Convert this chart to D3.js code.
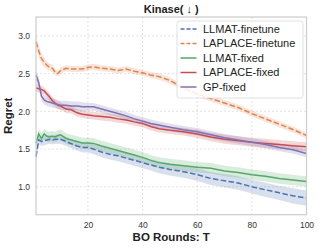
<!DOCTYPE html>
<html><head><meta charset="utf-8">
<script src="https://cdn.jsdelivr.net/npm/d3@7"></script>
<style>body{margin:0;background:#fff}svg{display:block}</style>
</head><body>
<script>
const rounds = [1,2,3,4,5,6,7,8,9,10,12,14,16,18,20,22,25,28,31,34,37,40,43,46,50,55,60,65,70,75,80,85,90,95,100];
const llmatFinetune = [1.40,1.62,1.60,1.61,1.62,1.63,1.62,1.63,1.63,1.63,1.60,1.57,1.54,1.52,1.52,1.50,1.46,1.43,1.41,1.38,1.35,1.32,1.29,1.26,1.23,1.20,1.16,1.11,1.08,1.05,1.00,0.96,0.92,0.88,0.85];
const llmatFinetuneErr = [0.06,0.06,0.06,0.06,0.06,0.06,0.06,0.06,0.06,0.06,0.06,0.06,0.06,0.065,0.065,0.065,0.07,0.07,0.07,0.07,0.075,0.075,0.075,0.08,0.08,0.08,0.085,0.085,0.09,0.09,0.09,0.095,0.095,0.1,0.1];
const laplaceFinetune = [2.92,2.80,2.70,2.65,2.61,2.58,2.57,2.52,2.50,2.54,2.57,2.56,2.56,2.56,2.58,2.59,2.57,2.56,2.54,2.56,2.53,2.51,2.48,2.46,2.41,2.31,2.23,2.17,2.11,2.05,1.97,1.90,1.83,1.76,1.68];
const laplaceFinetuneErr = [0.08,0.08,0.07,0.06,0.05,0.05,0.05,0.04,0.04,0.04,0.04,0.04,0.04,0.04,0.04,0.04,0.04,0.04,0.04,0.04,0.04,0.04,0.04,0.04,0.04,0.04,0.04,0.04,0.04,0.04,0.04,0.04,0.04,0.04,0.04];
const llmatFixed = [1.58,1.70,1.64,1.70,1.67,1.66,1.67,1.66,1.68,1.69,1.64,1.62,1.60,1.58,1.58,1.575,1.54,1.51,1.48,1.45,1.42,1.39,1.35,1.32,1.30,1.28,1.26,1.245,1.21,1.19,1.16,1.14,1.11,1.09,1.07];
const llmatFixedErr = [0.07,0.07,0.07,0.07,0.07,0.07,0.07,0.07,0.07,0.07,0.07,0.07,0.07,0.07,0.07,0.07,0.07,0.07,0.07,0.07,0.07,0.07,0.07,0.07,0.07,0.07,0.07,0.07,0.07,0.07,0.07,0.07,0.07,0.07,0.07];
const laplaceFixed = [2.31,2.30,2.29,2.27,2.23,2.19,2.14,2.11,2.08,2.07,2.03,2.02,1.98,1.96,1.95,1.94,1.93,1.92,1.90,1.885,1.86,1.84,1.80,1.77,1.75,1.73,1.70,1.66,1.63,1.61,1.59,1.575,1.56,1.545,1.53];
const laplaceFixedErr = [0.05,0.05,0.05,0.05,0.05,0.05,0.05,0.05,0.05,0.05,0.05,0.05,0.05,0.05,0.05,0.05,0.05,0.05,0.05,0.05,0.05,0.05,0.05,0.05,0.05,0.05,0.055,0.055,0.06,0.06,0.06,0.06,0.06,0.06,0.06];
const gpFixed = [2.48,2.38,2.20,2.15,2.13,2.12,2.11,2.10,2.09,2.08,2.08,2.07,2.07,2.06,2.06,2.06,2.03,2.00,1.97,1.94,1.90,1.87,1.84,1.82,1.79,1.755,1.73,1.69,1.65,1.62,1.59,1.56,1.52,1.49,1.44];
const gpFixedErr = [0.07,0.07,0.06,0.06,0.06,0.06,0.06,0.06,0.06,0.06,0.06,0.06,0.06,0.06,0.05,0.05,0.05,0.05,0.05,0.05,0.05,0.05,0.05,0.05,0.05,0.05,0.05,0.05,0.05,0.05,0.05,0.05,0.05,0.05,0.05];
const seriesNames = ["LLMAT-finetune","LAPLACE-finetune","LLMAT-fixed","LAPLACE-fixed","GP-fixed"];
const seriesColors = ["#4c72b0","#dd8452","#55a868","#c44e52","#8172b3"];
const seriesDashed = [true,true,false,false,false];
const seriesValues = [llmatFinetune,laplaceFinetune,llmatFixed,laplaceFixed,gpFixed];
const seriesErrors = [llmatFinetuneErr,laplaceFinetuneErr,llmatFixedErr,laplaceFixedErr,gpFixedErr];
const xTicks = [20,40,60,80,100];
const yTicks = [1.0,1.5,2.0,2.5,3.0];

const W=319,H=248;
const m={l:36,r:12.5,t:17,b:33.3};
const svg=d3.select("body").append("svg").attr("width",W).attr("height",H);
const x=d3.scaleLinear().domain([1,100]).range([m.l,W-m.r]);
const y=d3.scaleLinear().domain([0.63,3.25]).range([H-m.b,m.t]);
const font="Liberation Sans, Arial, sans-serif";

// grid
const g=svg.append("g");
g.selectAll(".gx").data(xTicks).join("line").attr("x1",d=>x(d)).attr("x2",d=>x(d)).attr("y1",m.t).attr("y2",H-m.b)
 .attr("stroke","#dcdcdc").attr("stroke-width",0.8).attr("stroke-dasharray","2,2");
g.selectAll(".gy").data(yTicks).join("line").attr("x1",m.l).attr("x2",W-m.r).attr("y1",d=>y(d)).attr("y2",d=>y(d))
 .attr("stroke","#dcdcdc").attr("stroke-width",0.8).attr("stroke-dasharray","2,2");

// bands & lines
const area=d3.area().x((d,i)=>x(rounds[i])).y0(d=>y(d[0]-d[1])).y1(d=>y(d[0]+d[1]));
const line=d3.line().x((d,i)=>x(rounds[i])).y(d=>y(d));
seriesValues.forEach((vals,k)=>{
  const pairs=vals.map((v,i)=>[v,seriesErrors[k][i]]);
  svg.append("path").datum(pairs).attr("d",area).attr("fill",seriesColors[k]).attr("fill-opacity",0.22);
});
seriesValues.forEach((vals,k)=>{
  svg.append("path").datum(vals).attr("d",line).attr("fill","none").attr("stroke",seriesColors[k])
   .attr("stroke-width",1.5).attr("stroke-dasharray",seriesDashed[k]?"5.5,2.4":null);
});

// frame
svg.append("rect").attr("x",m.l).attr("y",m.t).attr("width",W-m.r-m.l).attr("height",H-m.b-m.t)
 .attr("fill","none").attr("stroke","#cccccc").attr("stroke-width",1.2);

// axes
const xa=svg.append("g").attr("transform",`translate(0,${H-m.b})`).call(d3.axisBottom(x).tickValues(xTicks).tickSize(0).tickPadding(7).tickFormat(d3.format("d")));
const ya=svg.append("g").attr("transform",`translate(${m.l},0)`).call(d3.axisLeft(y).tickValues(yTicks).tickSize(0).tickPadding(6).tickFormat(d3.format(".1f")));
[xa,ya].forEach(a=>{a.select(".domain").remove();a.selectAll("text").attr("font-family",font).attr("font-size",8.5).attr("fill","#333");});

// labels
svg.append("text").attr("x",(m.l+W-m.r)/2).attr("y",13).attr("text-anchor","middle").attr("font-family",font)
 .attr("font-weight","bold").attr("font-size",11).attr("fill","#222").text("Kinase( ↓ )");
svg.append("text").attr("x",(m.l+W-m.r)/2).attr("y",241).attr("text-anchor","middle").attr("font-family",font)
 .attr("font-weight","bold").attr("font-size",11.5).attr("fill","#222").text("BO Rounds: T");
svg.append("text").attr("transform",`translate(12,${(m.t+H-m.b)/2}) rotate(-90)`).attr("text-anchor","middle").attr("font-family",font)
 .attr("font-weight","bold").attr("font-size",11.5).attr("fill","#222").text("Regret");

// legend
const lg=svg.append("g");
lg.append("rect").attr("x",177).attr("y",21).attr("width",126).attr("height",77).attr("rx",2.5)
 .attr("fill","#fff").attr("fill-opacity",0.85).attr("stroke","#d8d8d8").attr("stroke-width",0.8);
seriesNames.forEach((n,k)=>{
  const yy=29+k*14.5;
  lg.append("line").attr("x1",180.5).attr("x2",196.5).attr("y1",yy).attr("y2",yy).attr("stroke",seriesColors[k])
   .attr("stroke-width",1.5).attr("stroke-dasharray",seriesDashed[k]?"4,2":null);
  lg.append("text").attr("x",203).attr("y",yy).attr("dy","0.35em").attr("font-family",font).attr("font-size",11)
   .attr("fill","#222").text(n);
});
</script>
</body></html>
